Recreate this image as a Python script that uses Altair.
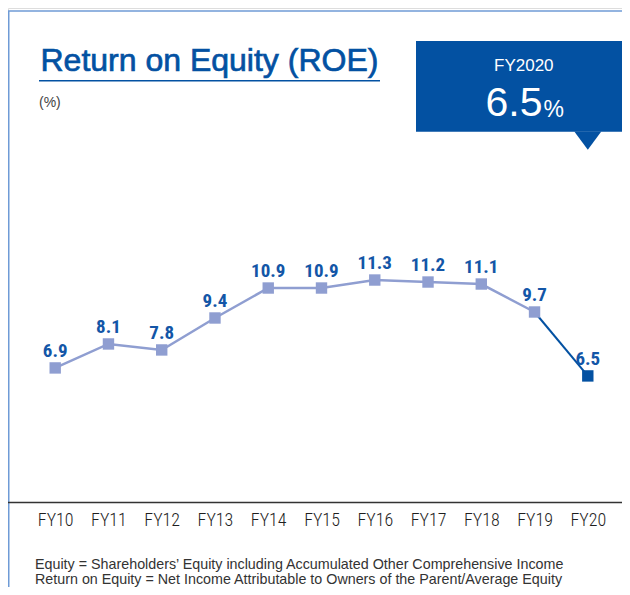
import altair as alt
import pandas as pd

# ---- data ----
years = ["FY10", "FY11", "FY12", "FY13", "FY14", "FY15", "FY16", "FY17", "FY18", "FY19", "FY20"]
roe = [6.9, 8.1, 7.8, 9.4, 10.9, 10.9, 11.3, 11.2, 11.1, 9.7, 6.5]
highlight_label = "FY2020"
title_text = "Return on Equity (ROE)"
unit_text = "(%)"
notes = [
    "Equity = Shareholders\u2019 Equity including Accumulated Other Comprehensive Income",
    "Return on Equity = Net Income Attributable to Owners of the Parent/Average Equity",
]

DARK = "#0351a2"
LIGHT = "#8f9ed1"
LABEL = "#1356a7"
FRAME = "#6f9bd6"
NARROW = "Roboto Condensed, Liberation Sans Narrow, Archivo Narrow, Liberation Sans"
SANS = "Liberation Sans, Arimo, Arial, Helvetica"

df = pd.DataFrame({"year": years, "roe": roe})
df["label"] = [f"{v:.1f}" for v in roe]
df_hist = df.iloc[:-1]
df_last_seg = df.iloc[-2:]
df_last = df.iloc[-1:]
one = pd.DataFrame({"k": [0]})

W, H = 614, 494

x_enc = alt.X(
    "year:O",
    sort=years,
    scale=alt.Scale(type="point", range=[47.2, 579.8], padding=0),
    axis=alt.Axis(
        title=None, domain=False, ticks=False, grid=False, labelAngle=0,
        labelFont=NARROW, labelFontSize=18, labelFontWeight=300,
        labelColor="#1e1e1e", labelPadding=9,
    ),
)
y_enc = alt.Y("roe:Q", scale=alt.Scale(domain=[0.19, 24.915], zero=False, nice=False), axis=None)

line_hist = alt.Chart(df_hist).mark_line(color=LIGHT, strokeWidth=2.5).encode(x=x_enc, y=y_enc)
line_last = alt.Chart(df_last_seg).mark_line(color=DARK, strokeWidth=2).encode(x=x_enc, y=y_enc)
pts_hist = alt.Chart(df_hist).mark_point(shape="square", filled=True, opacity=1, size=130, color=LIGHT).encode(x=x_enc, y=y_enc)
pts_last = alt.Chart(df_last).mark_point(shape="square", filled=True, opacity=1, size=130, color=DARK).encode(x=x_enc, y=y_enc)
labels = alt.Chart(df).mark_text(
    font=NARROW, fontSize=19, fontWeight="bold", color=LABEL, dy=-11, baseline="alphabetic"
).encode(x=x_enc, y=y_enc, text="label:N")

# baseline (x-axis line)
base_rule = alt.Chart(one).mark_rule(color="#333333", strokeWidth=1.4).encode(
    x=alt.value(0), x2=alt.value(W), y=alt.value(494.5)
)
# frame
frame_top = alt.Chart(one).mark_rule(color=FRAME, strokeWidth=1.5).encode(
    x=alt.value(0), x2=alt.value(W), y=alt.value(3)
)
frame_left = alt.Chart(one).mark_rule(color=FRAME, strokeWidth=1.5).encode(
    x=alt.value(0.75), y=alt.value(3), y2=alt.value(H + 85)
)

# title
title = alt.Chart(pd.DataFrame({"t": [title_text]})).mark_text(
    font=SANS, fontSize=32, color=DARK, stroke=DARK, strokeWidth=0.7,
    align="left", baseline="alphabetic"
).encode(x=alt.value(32.5), y=alt.value(62.7), text="t:N")
underline = alt.Chart(one).mark_rule(color=DARK, strokeWidth=1.5).encode(
    x=alt.value(31), x2=alt.value(372), y=alt.value(72.7)
)
unit = alt.Chart(pd.DataFrame({"t": [unit_text]})).mark_text(
    font=SANS, fontSize=14, color="#444444", align="left", baseline="alphabetic"
).encode(x=alt.value(31), y=alt.value(99), text="t:N")

# highlight box
box = alt.Chart(one).mark_rect(color=DARK).encode(
    x=alt.value(408), x2=alt.value(W), y=alt.value(33), y2=alt.value(123.7)
)
tri = alt.Chart(df_last).mark_point(
    shape="M -1 -0.68 L 1 -0.68 L 0 0.68 Z", filled=True, opacity=1, size=729, color=DARK, dx=-2
).encode(x=x_enc, y=alt.value(132.6))
box_year = alt.Chart(pd.DataFrame({"t": [highlight_label]})).mark_text(
    font=SANS, fontSize=17, color="white", align="center", baseline="alphabetic"
).encode(x=alt.value(515.8), y=alt.value(62.7), text="t:N")
box_val = alt.Chart(df_last).mark_text(
    font=SANS, fontSize=41, color="white", align="right", baseline="alphabetic"
).encode(x=alt.value(534.5), y=alt.value(108), text="label:N")
box_pct = alt.Chart(one).mark_text(
    font=SANS, fontSize=23, color="white", align="left", baseline="alphabetic", text="%"
).encode(x=alt.value(535.5), y=alt.value(108.5))

# footnotes
note_df = pd.DataFrame({"t": notes})
note1 = alt.Chart(note_df.iloc[:1]).mark_text(
    font=SANS, fontSize=14.3, color="#333333", align="left", baseline="alphabetic"
).encode(x=alt.value(27), y=alt.value(561), text="t:N")
note2 = alt.Chart(note_df.iloc[1:]).mark_text(
    font=SANS, fontSize=14.3, color="#333333", align="left", baseline="alphabetic"
).encode(x=alt.value(27), y=alt.value(575.5), text="t:N")

chart = alt.layer(
    frame_top, frame_left, base_rule,
    line_hist, line_last, pts_hist, pts_last, labels,
    title, underline, unit,
    box, tri, box_year, box_val, box_pct,
    note1, note2,
).properties(
    width=W, height=H,
    autosize=alt.AutoSizeParams(type="none"),
    padding={"left": 0, "top": 0, "right": 0, "bottom": 85},
).configure_view(stroke=None).configure(background="white")

chart.save("out.html", embed_options={"renderer": "svg", "actions": False})
